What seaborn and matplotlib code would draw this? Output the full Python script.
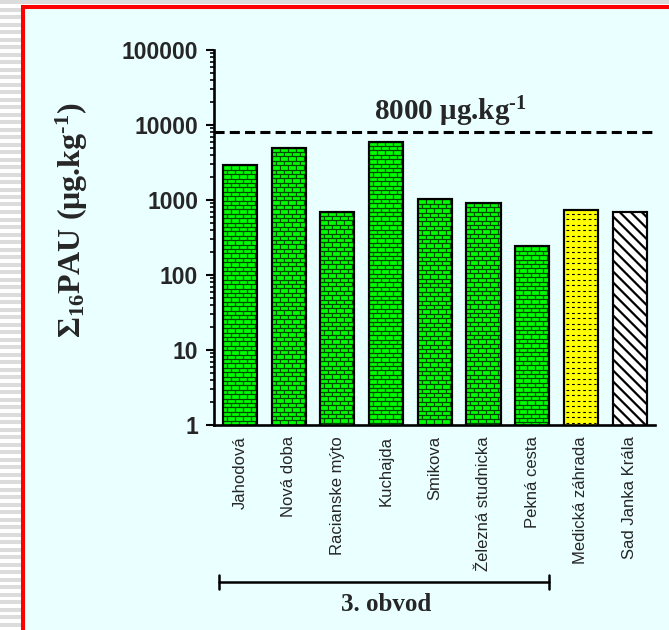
import numpy as np
import pandas as pd
import matplotlib
matplotlib.use("Agg")
import matplotlib.pyplot as plt
import seaborn as sns
from matplotlib.patches import Rectangle
from matplotlib.collections import LineCollection
from matplotlib.ticker import LogLocator, NullFormatter
from matplotlib.transforms import IdentityTransform, blended_transform_factory

# ---- data -------------------------------------------------------------
sites = ["Jahodová", "Nová doba", "Racianske mýto", "Kuchajda", "Smikova",
         "Železná studnicka", "Pekná cesta", "Medická záhrada", "Sad Janka Krála"]
pah_sum = [2900, 5000, 700, 6000, 1020, 910, 240, 740, 700]
bar_fills = ["#00ff00"] * 7 + ["#ffff00", "#ffffff"]
bar_patterns = ["brick"] * 7 + ["dashes", "diagonal"]
limit_value = 8000
ytick_values = [1, 10, 100, 1000, 10000, 100000]
ytick_labels = ["1", "10", "100", "1000", "10000", "100000"]
district_label = "3. obvod"
district_size = 7

# ---- style ------------------------------------------------------------
sns.set_theme(style="white")
plt.rcParams["font.family"] = ["Liberation Sans", "DejaVu Sans"]
plt.rcParams["mathtext.fontset"] = "custom"
plt.rcParams["mathtext.rm"] = "Liberation Serif:bold"
plt.rcParams["mathtext.it"] = "Liberation Serif:bold"
plt.rcParams["mathtext.bf"] = "Liberation Serif:bold"

PANEL = "#eaffff"
W, H = 669, 630
fig = plt.figure(figsize=(W / 100, H / 100), dpi=100)
fig.patch.set_facecolor("white")

# striped page behind the panel
for y0 in np.arange(0, H, 7.5):
    fig.add_artist(Rectangle((0, 1 - (y0 + 4) / H), 1, 4 / H,
                             transform=fig.transFigure, facecolor="#dcdcdc",
                             lw=0, zorder=0))
# light panel with a red frame
fig.add_artist(Rectangle((23 / W, -0.5), 2, 1.5 - 7 / H, transform=fig.transFigure,
                         facecolor=PANEL, edgecolor="#ff0000", lw=2.9, zorder=1))

ax = fig.add_axes([214 / W, 205 / H, 441 / W, 375 / H])
ax.set_facecolor("none")
ax.set_zorder(2)

df = pd.DataFrame({"site": sites, "value": pah_sum})
sns.barplot(data=df, x="site", y="value", hue="site", palette=bar_fills,
            saturation=1, legend=False, width=0.7, edgecolor="black",
            linewidth=1.5, ax=ax, zorder=2)
ax.set_yscale("log")
ax.set_ylim(1, 100000)
ax.set_xlim(-0.53, 8.52)

# limit line and its label
ax.axhline(limit_value, color="black", lw=2.2, linestyle=(0, (3.3, 1.7)), zorder=3)
ax.text(0.535, 0.813, r"$\text{%d μg.kg}^{\text{-1}}$" % limit_value,
        transform=ax.transAxes, ha="center", va="baseline", fontsize=21)

# axes cosmetics
for side in ["top", "right"]:
    ax.spines[side].set_visible(False)
for side in ["left", "bottom"]:
    ax.spines[side].set_color("black")
    ax.spines[side].set_linewidth(1.9)

ax.set_yticks(ytick_values)
ax.set_yticklabels(ytick_labels, fontweight="bold", fontsize=16.5)
ax.yaxis.set_minor_locator(LogLocator(base=10, subs=np.arange(2, 10)))
ax.yaxis.set_minor_formatter(NullFormatter())
ax.tick_params(axis="y", which="major", left=True, direction="out",
               length=5.5, width=1.5, color="black", pad=6)
ax.tick_params(axis="y", which="minor", left=True, direction="out",
               length=3, width=1.2, color="black")
ax.tick_params(axis="x", which="both", bottom=False, length=0, pad=8)
plt.setp(ax.get_xticklabels(), rotation=90, ha="center", va="top", fontsize=12)
ax.set_xlabel("")
ax.set_ylabel(r"$\text{Σ}_{\text{16}}\text{PAU (μg.kg}^{\text{-1}}\text{)}$",
              fontsize=23)
ax.yaxis.set_label_coords(-0.282, 0.547)

# bracket grouping the district sites
bars = ax.patches[:len(sites)]
trans = blended_transform_factory(ax.transData, ax.transAxes)
x_left = bars[0].get_x() - 0.08
x_right = bars[district_size - 1].get_x() + bars[district_size - 1].get_width()
y_br = -157 / 375
cap = 7 / 375
kw = dict(color="black", lw=1.8, transform=trans, clip_on=False)
ax.plot([x_left, x_right], [y_br, y_br], **kw)
ax.plot([x_left, x_left], [y_br - cap, y_br + cap], **kw)
ax.plot([x_right, x_right], [y_br - cap, y_br + cap], **kw)
group_center = np.mean(range(district_size))
ax.text(group_center, -168 / 375, district_label, transform=trans, ha="center",
        va="top", fontsize=18, fontweight="bold", family="Liberation Serif")

# fill textures inside the bars (built in pixel space inside each bar box)
fig.canvas.draw()
ax_box = ax.get_window_extent()


def brick_segments(x0, x1, y0, y1, row=4.4, brick=8.0):
    segs = []
    y = y1
    k = 0
    while y > y0:
        segs.append([(x0, y), (x1, y)])
        off = 0 if k % 2 == 0 else brick / 2
        xv = x0 + off
        while xv < x1:
            segs.append([(xv, y), (xv, max(y - row, y0))])
            xv += brick
        y -= row
        k += 1
    return segs


def dash_segments(x0, x1, y0, y1, row=5.5):
    segs = []
    y = y1 - 4
    while y > y0:
        segs.append([(x0 + 2, y), (x1 - 2, y)])
        y -= row
    return segs


def diagonal_segments(x0, x1, y0, y1, step=11.0):
    h = y1 - y0
    segs = []
    c = x0 - h
    while c < x1:
        xs, xe = max(c, x0), min(c + h, x1)
        if xs < xe:
            segs.append([(xs, y1 - (xs - c)), (xe, y1 - (xe - c))])
        c += step
    return segs


for bar, pattern in zip(bars, bar_patterns):
    bb = bar.get_window_extent()
    x0, x1 = bb.x0, bb.x1
    y0, y1 = max(bb.y0, ax_box.y0), bb.y1
    if pattern == "brick":
        lc = LineCollection(brick_segments(x0, x1, y0, y1), colors="#004a00",
                            linewidths=0.9)
    elif pattern == "dashes":
        lc = LineCollection(dash_segments(x0, x1, y0, y1), colors="black",
                            linewidths=0.8, linestyles=[(0, (2.5, 2.5))])
    else:
        lc = LineCollection(diagonal_segments(x0, x1, y0, y1), colors="black",
                            linewidths=1.6)
    lc.set_transform(IdentityTransform())
    lc.set_zorder(2.5)
    ax.add_collection(lc, autolim=False)
    lc.set_clip_box(ax.bbox)
    # re-stroke the outline over the texture
    ax.add_patch(Rectangle(bar.get_xy(), bar.get_width(), bar.get_height(),
                           facecolor="none", edgecolor="black", lw=1.5,
                           zorder=2.6))

ax.set_xlim(-0.53, 8.52)
ax.set_ylim(1, 100000)

fig.savefig("out.png", dpi=100)
